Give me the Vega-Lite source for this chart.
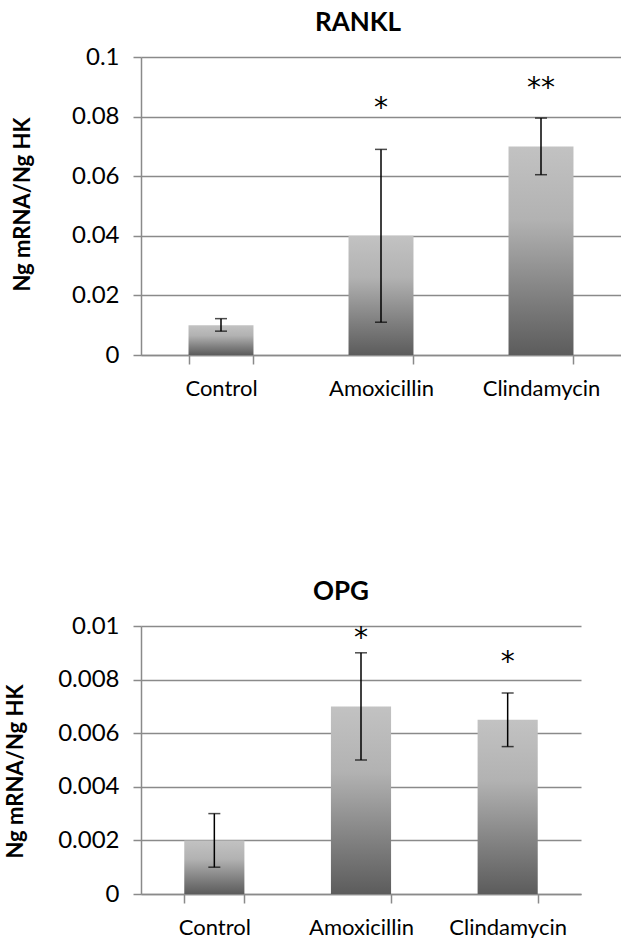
{
  "$schema": "https://vega.github.io/schema/vega-lite/v6.json",
  "padding": {"left": 4, "top": 10, "right": 0, "bottom": 0},
  "background": "white",
  "config": {
    "view": {"stroke": null},
    "font": "Lato",
    "axis": {
      "domainColor": "#8a8a8a",
      "domainWidth": 1.5,
      "tickColor": "#8a8a8a",
      "tickWidth": 1.5,
      "tickSize": 8,
      "gridColor": "#8a8a8a",
      "gridWidth": 1.5,
      "labelColor": "#000000",
      "titleColor": "#000000",
      "labelFont": "Lato",
      "titleFont": "Lato"
    },
    "title": {"font": "Lato", "fontWeight": "bold", "color": "#000000", "fontSize": 26}
  },
  "datasets": {
    "rankl": [
      {"group": "Control", "value": 0.01, "lo": 0.008, "hi": 0.0122, "star": "", "starY": 0},
      {"group": "Amoxicillin", "value": 0.04, "lo": 0.011, "hi": 0.069, "star": "*", "starY": 0.08},
      {"group": "Clindamycin", "value": 0.07, "lo": 0.0605, "hi": 0.0795, "star": "**", "starY": 0.0866}
    ],
    "opg": [
      {"group": "Control", "value": 0.002, "lo": 0.001, "hi": 0.003, "star": "", "starY": 0},
      {"group": "Amoxicillin", "value": 0.007, "lo": 0.005, "hi": 0.009, "star": "*", "starY": 0.0092},
      {"group": "Clindamycin", "value": 0.0065, "lo": 0.0055, "hi": 0.0075, "star": "*", "starY": 0.00832}
    ]
  },
  "concat": [
    {
      "width": 480,
      "height": 298,
      "data": {"name": "rankl"},
      "title": {"text": "RANKL", "dx": -23, "offset": 9},
      "encoding": {
        "x": {
          "field": "group", "type": "nominal",
          "sort": ["Control", "Amoxicillin", "Clindamycin"],
          "scale": {"paddingInner": 0.594, "paddingOuter": 0.297},
          "axis": {"title": null, "labelAngle": 0, "labelFontSize": 22, "labelPadding": 14, "tickBand": "extent", "grid": false, "tickSize": 9}
        }
      },
      "layer": [
        {
          "mark": {"type": "bar", "fill": {"gradient": "linear", "x1": 0, "y1": 0, "x2": 0, "y2": 1, "stops": [{"offset": 0, "color": "#c2c2c2"}, {"offset": 0.35, "color": "#b2b2b2"}, {"offset": 0.75, "color": "#7c7c7c"}, {"offset": 1, "color": "#5c5c5c"}]}},
          "encoding": {
            "y": {
              "field": "value", "type": "quantitative",
              "scale": {"domain": [0, 0.1]},
              "axis": {"values": [0, 0.02, 0.04, 0.06, 0.08, 0.1], "format": "~g", "labelFontSize": 24, "labelPadding": 14, "title": "Ng mRNA/Ng HK", "titleFontSize": 22, "titleFontWeight": "bold", "titleX": -119, "titleY": 147, "titleBaseline": "middle", "titleAngle": -90}
            }
          }
        },
        {
          "mark": {"type": "rule", "color": "black", "strokeWidth": 1.5},
          "encoding": {"y": {"field": "lo", "type": "quantitative"}, "y2": {"field": "hi"}}
        },
        {
          "mark": {"type": "tick", "color": "black", "thickness": 1.5, "size": 12},
          "encoding": {"y": {"field": "lo", "type": "quantitative"}}
        },
        {
          "mark": {"type": "tick", "color": "black", "thickness": 1.5, "size": 12},
          "encoding": {"y": {"field": "hi", "type": "quantitative"}}
        },
        {
          "mark": {"type": "text", "font": "DejaVu Sans", "fontSize": 28, "baseline": "alphabetic", "align": "center", "color": "black"},
          "encoding": {"y": {"field": "starY", "type": "quantitative"}, "text": {"field": "star"}}
        }
      ]
    },
    {
      "width": 440,
      "height": 268,
      "data": {"name": "opg"},
      "title": {"text": "OPG", "dx": -20, "offset": 9},
      "encoding": {
        "x": {
          "field": "group", "type": "nominal",
          "sort": ["Control", "Amoxicillin", "Clindamycin"],
          "scale": {"paddingInner": 0.59, "paddingOuter": 0.295},
          "axis": {"title": null, "labelAngle": 0, "labelFontSize": 22, "labelPadding": 14, "tickBand": "extent", "grid": false, "tickSize": 9}
        }
      },
      "layer": [
        {
          "mark": {"type": "bar", "fill": {"gradient": "linear", "x1": 0, "y1": 0, "x2": 0, "y2": 1, "stops": [{"offset": 0, "color": "#c2c2c2"}, {"offset": 0.35, "color": "#b2b2b2"}, {"offset": 0.75, "color": "#7c7c7c"}, {"offset": 1, "color": "#5c5c5c"}]}},
          "encoding": {
            "y": {
              "field": "value", "type": "quantitative",
              "scale": {"domain": [0, 0.01]},
              "axis": {"values": [0, 0.002, 0.004, 0.006, 0.008, 0.01], "format": "~g", "labelFontSize": 24, "labelPadding": 14, "title": "Ng mRNA/Ng HK", "titleFontSize": 22, "titleFontWeight": "bold", "titleX": -126, "titleY": 145, "titleBaseline": "middle", "titleAngle": -90}
            }
          }
        },
        {
          "mark": {"type": "rule", "color": "black", "strokeWidth": 1.5},
          "encoding": {"y": {"field": "lo", "type": "quantitative"}, "y2": {"field": "hi"}}
        },
        {
          "mark": {"type": "tick", "color": "black", "thickness": 1.5, "size": 12},
          "encoding": {"y": {"field": "lo", "type": "quantitative"}}
        },
        {
          "mark": {"type": "tick", "color": "black", "thickness": 1.5, "size": 12},
          "encoding": {"y": {"field": "hi", "type": "quantitative"}}
        },
        {
          "mark": {"type": "text", "font": "DejaVu Sans", "fontSize": 28, "baseline": "alphabetic", "align": "center", "color": "black"},
          "encoding": {"y": {"field": "starY", "type": "quantitative"}, "text": {"field": "star"}}
        }
      ]
    }
  ],
  "columns": 1,
  "align": "none",
  "spacing": 180
}
